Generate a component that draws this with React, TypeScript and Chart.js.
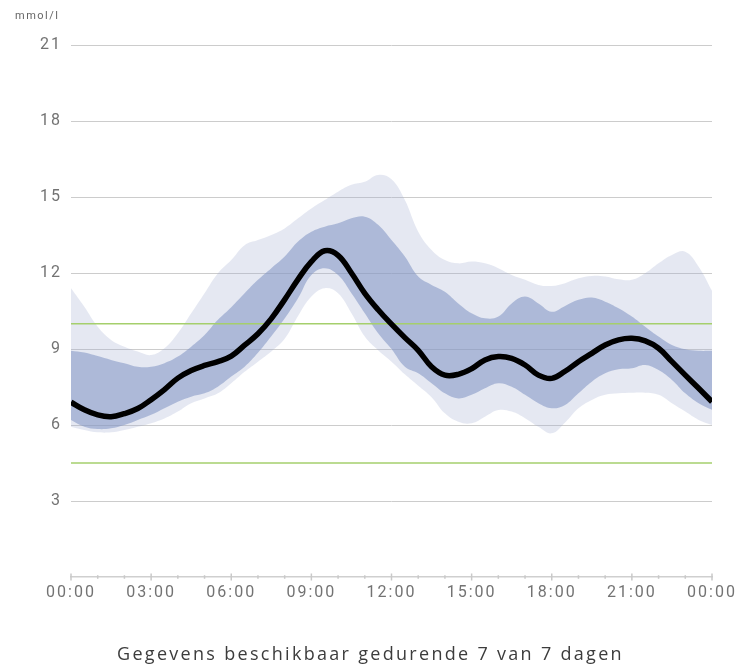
import { useEffect, useRef } from "react";
import { Chart, registerables } from "chart.js";

Chart.register(...registerables);

const hours = [
  0, 0.5, 1, 1.5, 2, 2.5, 3, 3.5, 4, 4.5, 5, 5.5, 6, 6.5, 7, 7.5, 8, 8.5, 9, 9.5,
  10, 10.5, 11, 11.5, 12, 12.5, 13, 13.5, 14, 14.5, 15, 15.5, 16, 16.5, 17, 17.5,
  18, 18.5, 19, 19.5, 20, 20.5, 21, 21.5, 22, 22.5, 23, 23.5, 24,
];

const median = [
  6.9, 6.6, 6.4, 6.33, 6.45, 6.65, 7.0, 7.4, 7.85, 8.15, 8.35, 8.5, 8.72, 9.15, 9.6,
  10.2, 10.95, 11.75, 12.45, 12.88, 12.7, 12.0, 11.2, 10.55, 9.98, 9.45, 8.95, 8.3,
  7.97, 8.0, 8.22, 8.57, 8.7, 8.63, 8.37, 7.97, 7.84, 8.12, 8.5, 8.83, 9.16, 9.36,
  9.42, 9.32, 9.03, 8.5, 7.97, 7.45, 6.92,
];

const p75 = [
  8.93, 8.86, 8.72, 8.57, 8.44, 8.3, 8.3, 8.44, 8.7, 9.09, 9.55, 10.15, 10.65, 11.2,
  11.73, 12.19, 12.65, 13.24, 13.63, 13.83, 13.96, 14.16, 14.22, 13.9, 13.3, 12.65,
  11.86, 11.53, 11.26, 10.8, 10.41, 10.21, 10.28, 10.8, 11.07, 10.8, 10.47, 10.7,
  10.94, 11.03, 10.87, 10.61, 10.28, 9.88, 9.49, 9.16, 8.99, 8.93, 8.93,
];

const p25 = [
  6.2, 5.93, 5.84, 5.87, 6.0, 6.2, 6.4, 6.66, 6.92, 7.12, 7.25, 7.51, 7.91, 8.3, 8.85,
  9.5, 10.2, 11.0, 11.92, 12.19, 11.92, 11.2, 10.41, 9.62, 9.0, 8.3, 8.04, 7.65, 7.25,
  7.05, 7.19, 7.45, 7.65, 7.51, 7.19, 6.86, 6.66, 6.79, 7.25, 7.71, 8.04, 8.2, 8.24,
  8.37, 8.17, 7.78, 7.25, 6.86, 6.6,
];

const p90 = [
  11.4, 10.67, 9.88, 9.36, 9.09, 8.9, 8.76, 9.03, 9.62, 10.41, 11.2, 11.99, 12.51,
  13.1, 13.3, 13.5, 13.76, 14.16, 14.55, 14.88, 15.21, 15.48, 15.6, 15.87, 15.7, 14.88,
  13.63, 12.91, 12.51, 12.38, 12.45, 12.38, 12.19, 11.92, 11.73, 11.53, 11.49, 11.6,
  11.79, 11.88, 11.86, 11.75, 11.73, 11.99, 12.38, 12.71, 12.84, 12.25, 11.3,
];

const p10 = [
  5.93, 5.8, 5.71, 5.71, 5.8, 5.93, 6.07, 6.26, 6.53, 6.86, 7.05, 7.25, 7.65, 8.1, 8.5,
  8.9, 9.4, 10.3, 11.07, 11.4, 11.2, 10.41, 9.49, 8.95, 8.5, 8.0, 7.55, 7.1, 6.46, 6.13,
  6.07, 6.33, 6.59, 6.53, 6.27, 5.93, 5.67, 6.1, 6.66, 6.99, 7.19, 7.25, 7.27, 7.27,
  7.19, 6.86, 6.53, 6.2, 6.0,
];

const targetLow = 4.5;
const targetHigh = 10;
const dayStart = 0;
const dayEnd = 24;

const yMax = 21;
const yStep = 3;
const xTickLabels: Record<number, string> = {
  0: "00:00",
  3: "03:00",
  6: "06:00",
  9: "09:00",
  12: "12:00",
  15: "15:00",
  18: "18:00",
  21: "21:00",
  24: "00:00",
};

const unitLabel = "mmol/l";
const footerText = "Gegevens beschikbaar gedurende 7 van 7 dagen";

const toXY = (vals: number[]) => vals.map((y, i) => ({ x: hours[i], y }));

const spacingPlugin = {
  id: "spacing",
  beforeDraw(chart: any) {
    chart.ctx.letterSpacing = "2px";
  },
};

const tickPlugin = {
  id: "xticks",
  afterDraw(chart: any) {
    const xs = chart.scales.x;
    const ctx = chart.ctx;
    const yb = chart.chartArea.bottom;
    ctx.save();
    ctx.strokeStyle = "#c9c9c9";
    ctx.lineWidth = 1.5;
    for (const t of xs.ticks) {
      const px = xs.getPixelForValue(t.value);
      const len = t.value % 3 === 0 ? 3.5 : 1.8;
      ctx.beginPath();
      ctx.moveTo(px, yb - len);
      ctx.lineTo(px, yb + len);
      ctx.stroke();
    }
    ctx.restore();
  },
};

export default function App() {
  const ref = useRef<HTMLCanvasElement>(null);

  useEffect(() => {
    if (!ref.current) return;
    const lightFill = "rgba(160,172,210,0.28)";
    const darkFill = "rgba(128,148,194,0.55)";
    const green = "#a5cf6c";
    const chart = new Chart(ref.current, {
      type: "line",
      data: {
        datasets: [
          {
            data: toXY(median),
            borderColor: "#000000",
            borderWidth: 5.5,
            pointRadius: 0,
            tension: 0.4,
            fill: false,
          },
          {
            data: [
              { x: dayStart, y: targetHigh },
              { x: dayEnd, y: targetHigh },
            ],
            borderColor: green,
            borderWidth: 1.5,
            pointRadius: 0,
            fill: false,
          },
          {
            data: [
              { x: dayStart, y: targetLow },
              { x: dayEnd, y: targetLow },
            ],
            borderColor: green,
            borderWidth: 1.5,
            pointRadius: 0,
            fill: false,
          },
          {
            data: toXY(p75),
            borderWidth: 0,
            borderColor: "transparent",
            backgroundColor: darkFill,
            pointRadius: 0,
            tension: 0.4,
            fill: 4,
          },
          {
            data: toXY(p25),
            borderWidth: 0,
            borderColor: "transparent",
            pointRadius: 0,
            tension: 0.4,
            fill: false,
          },
          {
            data: toXY(p90),
            borderWidth: 0,
            borderColor: "transparent",
            backgroundColor: lightFill,
            pointRadius: 0,
            tension: 0.4,
            fill: 6,
          },
          {
            data: toXY(p10),
            borderWidth: 0,
            borderColor: "transparent",
            pointRadius: 0,
            tension: 0.4,
            fill: false,
          },
        ],
      },
      options: {
        responsive: false,
        animation: false,
        layout: { padding: { left: 0, right: 29, top: 45, bottom: 0 } },
        plugins: {
          legend: { display: false },
          tooltip: { enabled: false },
        },
        scales: {
          x: {
            type: "linear",
            min: dayStart,
            max: dayEnd,
            afterFit: (s: any) => {
              s.height = 90;
            },
            ticks: {
              stepSize: 1,
              autoSkip: false,
              maxRotation: 0,
              padding: 6,
              color: "#737373",
              font: { family: "Roboto", size: 16 },
              callback: (v: any) => xTickLabels[v as number] ?? "",
            },
            grid: { display: false, drawTicks: false },
            border: { display: true, color: "#cfcfcf", width: 1.5 },
          },
          y: {
            min: 0,
            max: yMax,
            afterFit: (s: any) => {
              s.width = 71;
            },
            ticks: {
              stepSize: yStep,
              padding: 9,
              color: "#737373",
              font: { family: "Roboto", size: 16 },
              callback: (v: any) => (v === 0 ? "" : String(v)),
            },
            grid: {
              drawTicks: false,
              color: (c: any) => (c.tick && c.tick.value === 0 ? "transparent" : "#cccccc"),
              lineWidth: 1,
            },
            border: { display: false },
          },
        },
      },
      plugins: [spacingPlugin, tickPlugin],
    });
    return () => chart.destroy();
  }, []);

  return (
    <div style={{ position: "absolute", left: 0, top: 0, width: 741, height: 667, background: "#fff" }}>
      <canvas ref={ref} width={741} height={667} style={{ position: "absolute", left: 0, top: 0 }} />
      <div
        style={{
          position: "absolute",
          left: 15,
          top: 9,
          fontFamily: "Roboto",
          fontSize: 11,
          letterSpacing: "1.5px",
          color: "#666",
        }}
      >
        {unitLabel}
      </div>
      <div
        style={{
          position: "absolute",
          left: 0,
          width: 741,
          top: 641,
          textAlign: "center",
          fontFamily: "'Open Sans'",
          fontSize: 18,
          letterSpacing: "2.3px",
          color: "#3c3c3c",
          whiteSpace: "nowrap",
        }}
      >
        {footerText}
      </div>
    </div>
  );
}
